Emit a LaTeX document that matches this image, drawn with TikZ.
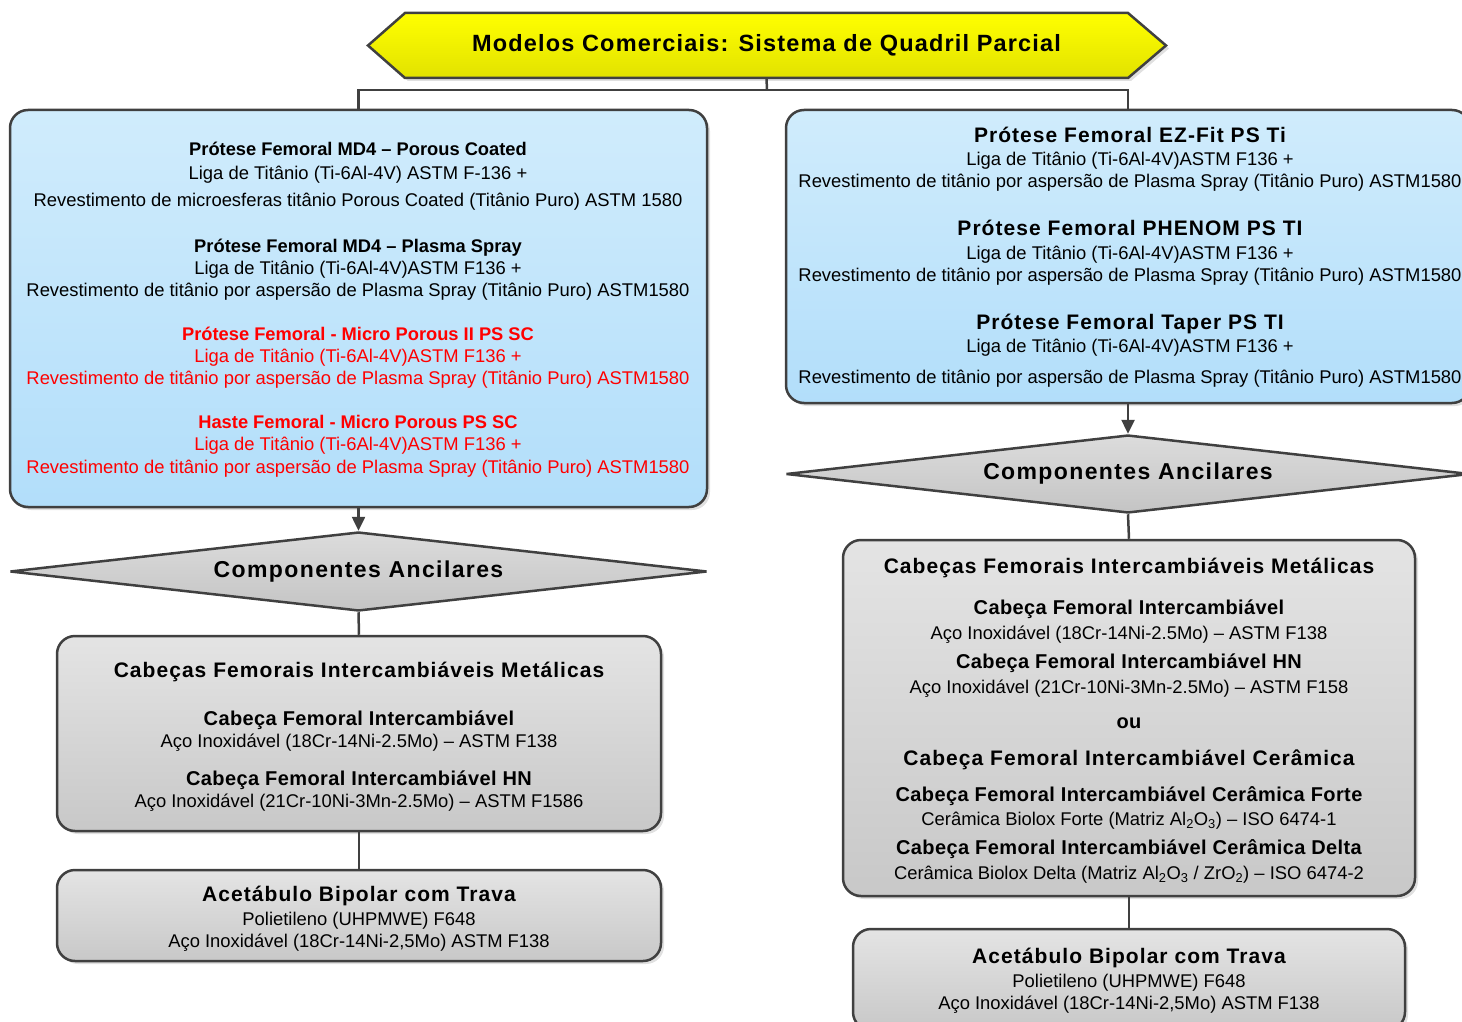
\documentclass[tikz,border=0pt]{standalone}
\usepackage{fontspec}
\setmainfont{Liberation Sans}
\newfontfamily\lsA[LetterSpace=5]{Liberation Sans}
\newfontfamily\lsB[LetterSpace=2]{Liberation Sans}
\newfontfamily\lsC[LetterSpace=6]{Liberation Sans}
\newfontfamily\lsD[LetterSpace=5]{Liberation Sans}
\usetikzlibrary{shapes.geometric,arrows.meta,shadows}
\definecolor{bluetop}{RGB}{208,236,252}
\definecolor{bluebot}{RGB}{178,222,250}
\definecolor{graytop}{RGB}{228,228,228}
\definecolor{graybot}{RGB}{200,200,200}
\definecolor{diatop}{RGB}{220,220,220}
\definecolor{diabot}{RGB}{196,196,196}
\definecolor{yeltop}{RGB}{255,255,0}
\definecolor{yelbot}{RGB}{226,226,0}
\definecolor{edge}{RGB}{64,64,64}
\definecolor{redtext}{RGB}{255,0,0}
\begin{document}
\begin{tikzpicture}[x=1pt,y=-1pt,
  boxbase/.style={draw=edge, line width=2.5pt, rounded corners=18pt, inner sep=0pt,
    drop shadow={shadow xshift=3pt, shadow yshift=-3pt, fill=black, opacity=0.12}},
  bluebox/.style={boxbase, top color=bluetop, bottom color=bluebot},
  graybox/.style={boxbase, top color=graytop, bottom color=graybot},
  diabox/.style={diamond, draw=edge, line width=2.5pt, line join=bevel, inner sep=0pt, aspect=8.8,
    top color=diatop, bottom color=diabot,
    font=\lsC\fontsize{23}{27}\selectfont\bfseries},
  conn/.style={draw=edge, line width=2.5pt},
  arr/.style={conn, -{Triangle[length=14pt,width=13pt]}},
  body/.style={anchor=base, inner sep=0pt, font=\fontsize{18.4}{22}\selectfont},
  tsm/.style={anchor=base, inner sep=0pt, font=\fontsize{18.3}{22}\selectfont\bfseries},
  tbig/.style={anchor=base, inner sep=0pt, font=\lsA\fontsize{21}{25}\selectfont\bfseries},
  tmid/.style={anchor=base, inner sep=0pt, font=\lsB\fontsize{20}{24}\selectfont\bfseries},
  rd/.style={text=redtext}]
\clip (0,0) rectangle (1462,1022);

% ---------- banner ----------
\path[draw=edge, line width=2.5pt, top color=yeltop, bottom color=yelbot,
  drop shadow={shadow xshift=3pt, shadow yshift=-3pt, fill=black, opacity=0.12}]
  (405,13) -- (1128,13) -- (1166,45.5) -- (1128,78) -- (405,78) -- (368,45.5) -- cycle;
\node[inner sep=0pt, minimum width=723pt, minimum height=65pt,
  font=\lsD\fontsize{23.5}{27}\selectfont\bfseries] (title) at (766.5,45.5)
  {Modelos Comerciais: Sistema de Quadril Parcial};
\coordinate (hy) at (767,90);

% ---------- main boxes ----------
\node[bluebox, minimum width=697pt, minimum height=397pt] (lbox) at (358.5,308.5) {};
\node[bluebox, minimum width=684pt, minimum height=293pt] (rbox) at (1128,256.5) {};

\node[diabox, minimum width=697pt, minimum height=79pt] (ldia) at (358.5,571.5) {Componentes Ancilares};
\node[diabox, minimum width=684pt, minimum height=78pt] (rdia) at (1128,474) {Componentes Ancilares};

\node[graybox, minimum width=604pt, minimum height=195pt] (lg1) at (359,733.5) {};
\node[graybox, minimum width=604pt, minimum height=91pt] (lg2) at (359,915.5) {};
\node[graybox, minimum width=572pt, minimum height=356pt] (rg1) at (1129,718) {};
\node[graybox, minimum width=552pt, minimum height=101pt] (rg2) at (1129,979.5) {};

% ---------- connectors ----------
\draw[conn] (title.south) -- (hy);
\draw[conn] (lbox.north) |- (hy) -| (rbox.north);
\draw[arr] (lbox.south) -- (ldia.north);
\draw[arr] (rbox.south) -- (rdia.north);
\draw[conn] (ldia.south) -- (lg1.north);
\draw[conn] (lg1.south) -- (lg2.north);
\draw[conn] (rdia.south) -- (rg1.north);
\draw[conn] (rg1.south) -- (rg2.north);

% ---------- left blue box texts ----------
\node[tsm] (la1) at (358,155.5) {Prótese Femoral MD4 – Porous Coated};
\node[body] (la2) at (358,179.5) {Liga de Titânio (Ti-6Al-4V) ASTM F-136 +};
\node[body] (la3) at (358,206.5) {Revestimento de microesferas titânio Porous Coated (Titânio Puro) ASTM 1580};
\node[tsm] (lb1) at (358,252.5) {Prótese Femoral MD4 – Plasma Spray};
\node[body] (lb2) at (358,274.5) {Liga de Titânio (Ti-6Al-4V)ASTM F136 +};
\node[body] (lb3) at (358,296.5) {Revestimento de titânio por aspersão de Plasma Spray (Titânio Puro) ASTM1580};
\node[tsm, rd] (lc1) at (358,340.5) {Prótese Femoral - Micro Porous II PS SC};
\node[body, rd] (lc2) at (358,362.5) {Liga de Titânio (Ti-6Al-4V)ASTM F136 +};
\node[body, rd] (lc3) at (358,384.5) {Revestimento de titânio por aspersão de Plasma Spray (Titânio Puro) ASTM1580};
\node[tsm, rd] (ld1) at (358,428.5) {Haste Femoral - Micro Porous PS SC};
\node[body, rd] (ld2) at (358,450.5) {Liga de Titânio (Ti-6Al-4V)ASTM F136 +};
\node[body, rd] (ld3) at (358,473.5) {Revestimento de titânio por aspersão de Plasma Spray (Titânio Puro) ASTM1580};

% ---------- right blue box texts ----------
\node[tbig] (ra1) at (1130,142.5) {Prótese Femoral EZ-Fit PS Ti};
\node[body] (ra2) at (1130,165.5) {Liga de Titânio (Ti-6Al-4V)ASTM F136 +};
\node[body] (ra3) at (1130,187.5) {Revestimento de titânio por aspersão de Plasma Spray (Titânio Puro) ASTM1580};
\node[tbig] (rb1) at (1130,235.5) {Prótese Femoral PHENOM PS TI};
\node[body] (rb2) at (1130,259.5) {Liga de Titânio (Ti-6Al-4V)ASTM F136 +};
\node[body] (rb3) at (1130,281.5) {Revestimento de titânio por aspersão de Plasma Spray (Titânio Puro) ASTM1580};
\node[tbig] (rc1) at (1130,329.5) {Prótese Femoral Taper PS TI};
\node[body] (rc2) at (1130,352.5) {Liga de Titânio (Ti-6Al-4V)ASTM F136 +};
\node[body] (rc3) at (1130,383.5) {Revestimento de titânio por aspersão de Plasma Spray (Titânio Puro) ASTM1580};

% ---------- left gray boxes ----------
\node[tbig] (lg1a) at (359,677.5) {Cabeças Femorais Intercambiáveis Metálicas};
\node[tmid] (lg1b) at (359,725) {Cabeça Femoral Intercambiável};
\node[body] (lg1c) at (359,747.5) {Aço Inoxidável (18Cr-14Ni-2.5Mo) – ASTM F138};
\node[tmid] (lg1d) at (359,785) {Cabeça Femoral Intercambiável HN};
\node[body] (lg1e) at (359,807.5) {Aço Inoxidável (21Cr-10Ni-3Mn-2.5Mo) – ASTM F1586};

\node[tbig] (lg2a) at (359,901.5) {Acetábulo Bipolar com Trava};
\node[body] (lg2b) at (359,925.5) {Polietileno (UHPMWE) F648};
\node[body] (lg2c) at (359,947.5) {Aço Inoxidável (18Cr-14Ni-2,5Mo) ASTM F138};

% ---------- right gray boxes ----------
\node[tbig] (rg1a) at (1129,573.5) {Cabeças Femorais Intercambiáveis Metálicas};
\node[tmid] (rg1b) at (1129,614) {Cabeça Femoral Intercambiável};
\node[body] (rg1c) at (1129,639.5) {Aço Inoxidável (18Cr-14Ni-2.5Mo) – ASTM F138};
\node[tmid] (rg1d) at (1129,668) {Cabeça Femoral Intercambiável HN};
\node[body] (rg1e) at (1129,693.5) {Aço Inoxidável (21Cr-10Ni-3Mn-2.5Mo) – ASTM F158};
\node[tmid] (rg1f) at (1129,728) {ou};
\node[tbig] (rg1g) at (1129,765.5) {Cabeça Femoral Intercambiável Cerâmica};
\node[tmid] (rg1h) at (1129,801) {Cabeça Femoral Intercambiável Cerâmica Forte};
\node[body] (rg1i) at (1129,825.5) {Cerâmica Biolox Forte (Matriz Al\textsubscript{2}O\textsubscript{3}) – ISO 6474-1};
\node[tmid] (rg1j) at (1129,854) {Cabeça Femoral Intercambiável Cerâmica Delta};
\node[body] (rg1k) at (1129,879.5) {Cerâmica Biolox Delta (Matriz Al\textsubscript{2}O\textsubscript{3} / ZrO\textsubscript{2}) – ISO 6474-2};

\node[tbig] (rg2a) at (1129,963.5) {Acetábulo Bipolar com Trava};
\node[body] (rg2b) at (1129,987.5) {Polietileno (UHPMWE) F648};
\node[body] (rg2c) at (1129,1009.5) {Aço Inoxidável (18Cr-14Ni-2,5Mo) ASTM F138};
\end{tikzpicture}
\end{document}
